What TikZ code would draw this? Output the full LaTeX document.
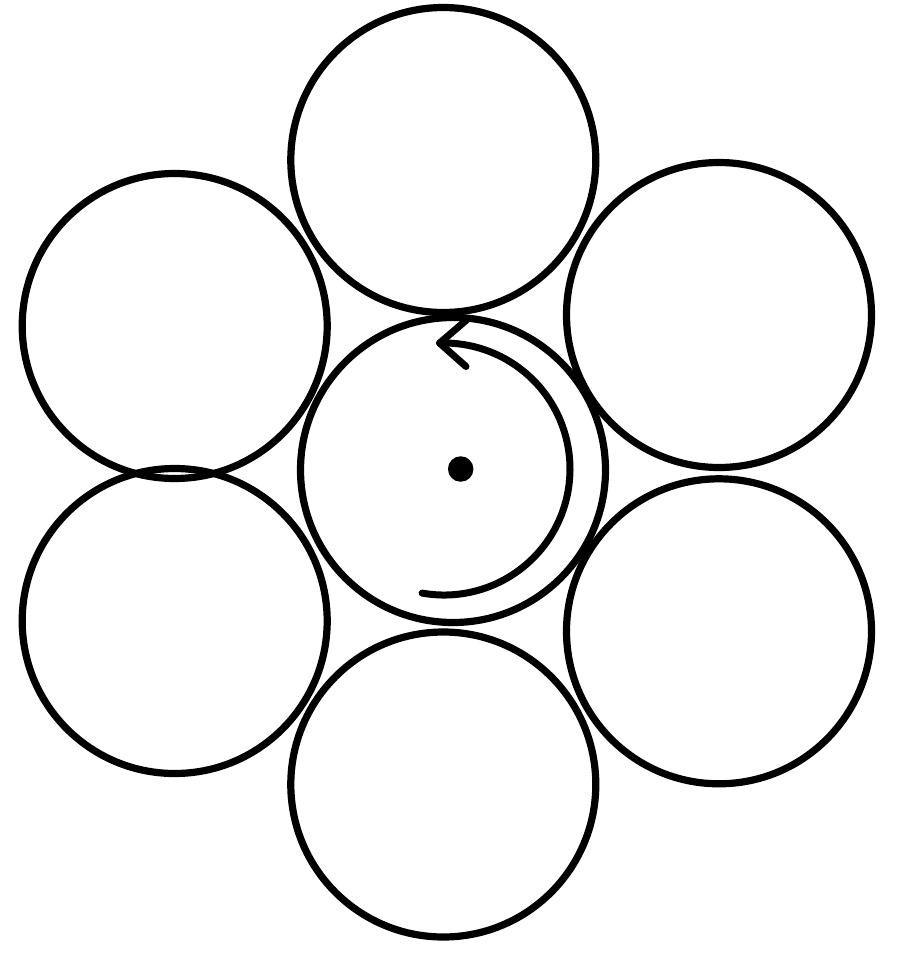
\documentclass[tikz,border=0pt]{standalone}
\begin{document}
\begin{tikzpicture}[x=1pt,y=-1pt,
  ring/.style={circle,draw=black,line width=7.2pt,minimum size=305pt,inner sep=0pt},
  spot/.style={circle,fill=black,minimum size=25.5pt,inner sep=0pt},
  turn/.style={draw=black,line width=7pt,line cap=round,line join=round}]
\useasboundingbox[fill=white] (0,0) rectangle (900,962);
\node[ring] (T)  at (443.3,160) {};
\node[ring] (UL) at (174.7,326) {};
\node[ring] (LL) at (174.7,621) {};
\node[ring] (UR) at (719,315) {};
\node[ring] (LR) at (719,631.3) {};
\node[ring] (B)  at (443.3,784.5) {};
\node[ring] (C)  at (453,470) {};
\node[spot] (dot) at (460.7,469) {};
\coordinate (axis) at (444,469);
\coordinate (tip) at ([shift={(-92:126)}]axis);
\coordinate (armU) at (466.5,320);
\coordinate (armD) at (466,366.5);
\draw[turn] ([shift={(100:126)}]axis) arc[start angle=100,end angle=-92,radius=126];
\draw[turn] (armU) -- (tip) -- (armD);
\end{tikzpicture}
\end{document}
